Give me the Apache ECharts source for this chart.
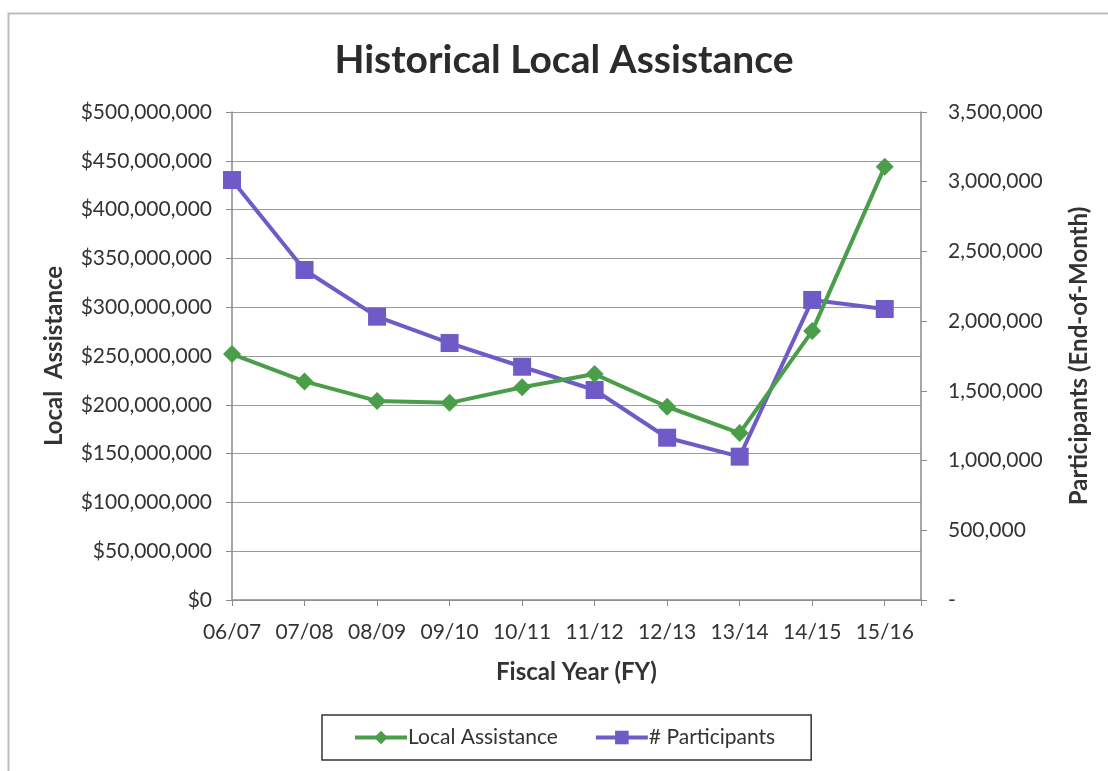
<!DOCTYPE html>
<html>
<head>
<meta charset="utf-8">
<script src="https://cdn.jsdelivr.net/npm/echarts@6/dist/echarts.min.js"></script>
<style>
html,body{margin:0;padding:0;background:#fff;}
#chart{width:1108px;height:771px;}
</style>
</head>
<body>
<div id="chart"></div>
<script>
const categories = ['06/07','07/08','08/09','09/10','10/11','11/12','12/13','13/14','14/15','15/16'];
const localAssistance = [252000000, 224000000, 204000000, 202000000, 218000000, 231500000, 198000000, 171000000, 275500000, 444000000];
const participants = [3012000, 2367000, 2032000, 1843000, 1673000, 1506000, 1164000, 1028000, 2152000, 2087000];
const leftTicks = [0, 50000000, 100000000, 150000000, 200000000, 250000000, 300000000, 350000000, 400000000, 450000000, 500000000];
const rightTicks = [0, 500000, 1000000, 1500000, 2000000, 2500000, 3000000, 3500000];

const FONT = 'Lato, "Open Sans", sans-serif';
const GREEN = '#4a9e4a';
const PURPLE = '#6f5bc8';
const TXT = '#333333';

function fmtNum(v){ return v.toString().replace(/\B(?=(\d{3})+(?!\d))/g, ','); }

const chart = echarts.init(document.getElementById('chart'));
chart.setOption({
  backgroundColor: '#ffffff',
  animation: false,
  graphic: [{
    type: 'rect', left: 6, top: 11, shape: { width: 1120, height: 800 },
    style: { fill: 'none', stroke: '#bdbdbd', lineWidth: 2 }, silent: true
  }, {
    type: 'text', x: 564, y: 60, silent: true,
    style: {
      text: 'Historical Local Assistance', align: 'center', verticalAlign: 'middle',
      fontFamily: FONT, fontSize: 39, fontWeight: 'bold', fill: '#2b2b2b'
    }
  }],
  legend: {
    left: 322, top: 715,
    padding: [12, 36, 12, 31],
    borderColor: '#333', borderWidth: 1.5,
    itemGap: 36, itemWidth: 52, itemHeight: 17,
    lineStyle: { width: 4 },
    textStyle: { fontFamily: FONT, fontSize: 21, color: TXT, padding: [0,0,0,-4] },
    data: ['Local Assistance', '# Participants']
  },
  grid: { left: 232, right: 187, top: 112, bottom: 171 },
  xAxis: {
    type: 'value', min: 0, max: 9.5, interval: 1,
    name: 'Fiscal Year (FY)', nameLocation: 'middle', nameGap: 60,
    nameTextStyle: { fontFamily: FONT, fontSize: 24, fontWeight: 'bold', color: TXT },
    axisLine: { show: true, lineStyle: { color: '#8a8a8a', width: 1.5 } },
    axisTick: { show: true, length: 6, lineStyle: { color: '#8a8a8a' } },
    splitLine: { show: false },
    axisLabel: {
      margin: 22, fontFamily: FONT, fontSize: 21, color: TXT,
      formatter: v => (Number.isInteger(v) && categories[v]) ? categories[v] : ''
    }
  },
  yAxis: [{
    type: 'value', min: 0, max: 500000000, interval: 50000000,
    name: 'Local  Assistance', nameLocation: 'middle', nameGap: 166, nameRotate: 90,
    nameTextStyle: { fontFamily: FONT, fontSize: 24, fontWeight: 'bold', color: TXT },
    axisLine: { show: true, lineStyle: { color: '#8a8a8a', width: 1.5 } },
    axisTick: { show: true, length: 6, lineStyle: { color: '#8a8a8a' } },
    splitLine: { show: true, lineStyle: { color: '#9a9a9a', width: 1.2 } },
    axisLabel: { margin: 20, fontFamily: FONT, fontSize: 21, color: TXT, formatter: v => '$' + fmtNum(v) }
  }, {
    type: 'value', min: 0, max: 3500000, interval: 500000, position: 'right',
    name: 'Participants (End-of-Month)', nameLocation: 'middle', nameGap: 146, nameRotate: 90,
    nameTextStyle: { fontFamily: FONT, fontSize: 24, fontWeight: 'bold', color: TXT },
    axisLine: { show: true, lineStyle: { color: '#8a8a8a', width: 1.5 } },
    axisTick: { show: true, length: 6, lineStyle: { color: '#8a8a8a' } },
    splitLine: { show: false },
    axisLabel: { margin: 27, fontFamily: FONT, fontSize: 21, color: TXT, formatter: v => v === 0 ? '-' : fmtNum(v) }
  }],
  series: [{
    name: 'Local Assistance', type: 'line', yAxisIndex: 0,
    data: localAssistance.map((v, i) => [i, v]),
    symbol: 'diamond', symbolSize: 18,
    lineStyle: { color: GREEN, width: 4 },
    itemStyle: { color: GREEN },
    z: 3
  }, {
    name: '# Participants', type: 'line', yAxisIndex: 1,
    data: participants.map((v, i) => [i, v]),
    symbol: 'rect', symbolSize: 18,
    lineStyle: { color: PURPLE, width: 4 },
    itemStyle: { color: PURPLE },
    z: 2
  }]
});
</script>
</body>
</html>
